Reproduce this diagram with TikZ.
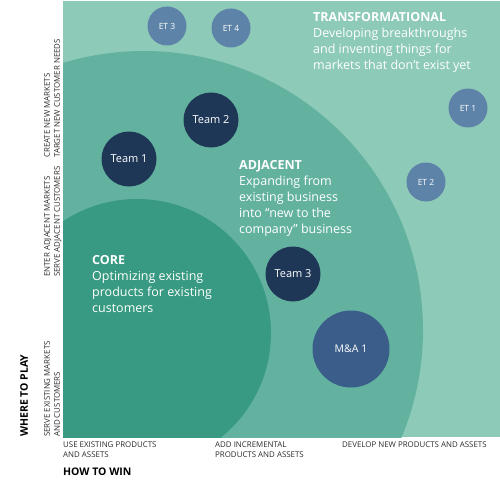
\documentclass[tikz,border=0pt]{standalone}
\usepackage{fontspec}
\setmainfont{Open Sans}
\usetikzlibrary{positioning}
\definecolor{transgreen}{HTML}{8ECAB8}
\definecolor{adjgreen}{HTML}{63B2A0}
\definecolor{coregreen}{HTML}{389A82}
\definecolor{teamnavy}{HTML}{1F3756}
\definecolor{etblue}{HTML}{5D83A8}
\definecolor{mablue}{HTML}{3B5D8A}
\definecolor{axisgray}{HTML}{2B2B2B}

\begin{document}
\begin{tikzpicture}[x=1pt,y=-1pt]
        \tikzstyle{team}=[circle,fill=teamnavy,text=white,minimum size=55pt,inner sep=0pt,font=\fontsize{11}{13}\selectfont]
        \tikzstyle{et}=[circle,fill=etblue,text=white,minimum size=39pt,inner sep=0pt,font=\fontsize{8.5}{10}\selectfont]
        \tikzstyle{zone}=[anchor=north west,inner sep=0pt,align=left,text=white,font=\fontsize{12.5}{16}\selectfont]
        \tikzstyle{axis}=[anchor=north west,inner sep=0pt,align=left,text=axisgray,font=\fontsize{7.9}{10}\selectfont]
        \tikzstyle{axistitle}=[anchor=north west,inner sep=0pt,text=black,font=\fontsize{10.5}{12}\selectfont\bfseries]

        \useasboundingbox (0,0) rectangle (500,500);

        % zones
        \begin{scope}
            \clip (63,1) rectangle (500,437);
            \fill[transgreen] (63,1) rectangle (500,437);
            \fill[adjgreen] (144,330) circle[radius=279pt];
            \fill[coregreen] (137,333) circle[radius=134pt];
        \end{scope}

        \node [zone] (trans) at (313,12) {{\bfseries TRANSFORMATIONAL}\\Developing breakthroughs\\and inventing things for\\markets that don’t exist yet};
        \node [zone] (adj) at (239,160) {{\bfseries ADJACENT}\\Expanding from\\existing business\\into “new to the\\company” business};
        \node [zone] (core) at (92,255) {{\bfseries CORE}\\Optimizing existing\\products for existing\\customers};

        % initiatives
        \node [et] (et3) at (167,26) {ET 3};
        \node [et] (et4) at (231,28) {ET 4};
        \node [et] (et1) at (468,108) {ET 1};
        \node [et] (et2) at (426,182) {ET 2};
        \node [team] (team2) at (211,120) {Team 2};
        \node [team] (team1) at (129,159) {Team 1};
        \node [team] (team3) at (293,274) {Team 3};
        \node [team, fill=mablue, minimum size=77pt, font=\fontsize{10.5}{12}\selectfont] (ma1) at (351,349) {M\&A 1};

        % where to play
        \node [axis, rotate=90] (serve) at (44,437) {SERVE EXISTING MARKETS\\AND CUSTOMERS};
        \node [axis, rotate=90] (enter) at (44,277) {ENTER ADJACENT MARKETS\\SERVE ADJACENT CUSTOMERS};
        \node [axis, rotate=90] (create) at (44,158) {CREATE NEW MARKETS\\TARGET NEW CUSTOMER NEEDS};
        \node [axistitle, rotate=90] (where) at (20,437) {WHERE TO PLAY};

        % how to win
        \node [axis] (use) at (63,442) {USE EXISTING PRODUCTS\\AND ASSETS};
        \node [axis] (add) at (215,442) {ADD INCREMENTAL\\PRODUCTS AND ASSETS};
        \node [axis] (develop) at (342,442) {DEVELOP NEW PRODUCTS AND ASSETS};
        \node [axistitle] (how) at (63,468) {HOW TO WIN};
\end{tikzpicture}
\end{document}
